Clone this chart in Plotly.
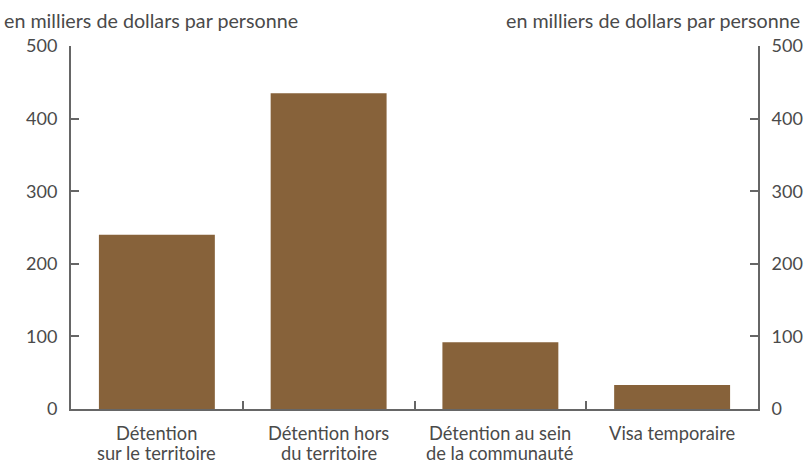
import plotly.graph_objects as go

categories = ["Détention<br>sur le territoire", "Détention hors<br>du territoire",
              "Détention au sein<br>de la communauté", "Visa temporaire"]
values = [240, 435, 92, 33]
tick_vals = [0, 100, 200, 300, 400, 500]
unit_label = "en milliers de dollars par personne"

bar_color = "#87623A"
axis_color = "#666666"
text_color = "#4a4a4a"
font_family = "Lato, sans-serif"

fig = go.Figure()
fig.add_trace(go.Bar(x=categories, y=values, marker_color=bar_color,
                     marker_line_width=0, width=0.675, showlegend=False,
                     hoverinfo="skip"))
fig.add_trace(go.Scatter(x=categories, y=values, yaxis="y2", mode="markers",
                         marker_opacity=0, showlegend=False, hoverinfo="skip"))

common_y = dict(range=[0, 500], tickvals=tick_vals, showline=True,
                linecolor=axis_color, linewidth=2, ticks="inside", ticklen=8,
                tickwidth=2, tickcolor=axis_color, showgrid=False,
                zeroline=False, ticklabelstandoff=8, automargin=False,
                tickfont=dict(size=18, color=text_color))

annotations = [
    dict(text=unit_label, xref="paper", yref="paper", x=0, y=1.0,
         xanchor="left", yanchor="bottom", yshift=12, xshift=-69,
         showarrow=False, font=dict(size=19.7, color=text_color)),
    dict(text=unit_label, xref="paper", yref="paper", x=1.0, y=1.0,
         xanchor="right", yanchor="bottom", yshift=12, xshift=44,
         showarrow=False, font=dict(size=19.7, color=text_color)),
]
# category labels, one annotation per line for tight line spacing
for cat in categories:
    for j, line in enumerate(cat.split("<br>")):
        annotations.append(dict(text=line, xref="x", yref="paper", x=cat, y=0,
                                xanchor="center", yanchor="middle",
                                yshift=-24 - 19.5 * j, showarrow=False,
                                borderpad=0,
                                font=dict(size=18.3, color=text_color)))

fig.update_layout(
    width=805, height=462,
    margin=dict(l=71, r=47, t=46, b=53, autoexpand=False),
    plot_bgcolor="white", paper_bgcolor="white",
    font=dict(family=font_family, size=18, color=text_color),
    xaxis=dict(showline=True, linecolor=axis_color, linewidth=2,
               ticks="inside", tickson="boundaries", ticklen=8, tickwidth=2,
               tickcolor=axis_color, showgrid=False, showticklabels=False,
               range=[-0.5, 3.5], automargin=False),
    yaxis=common_y,
    yaxis2=dict(common_y, overlaying="y", side="right"),
    annotations=annotations,
)

fig.write_html("out.html", config={"displayModeBar": False},
               post_script="document.body.style.margin='0px';document.body.style.padding='0px';")
